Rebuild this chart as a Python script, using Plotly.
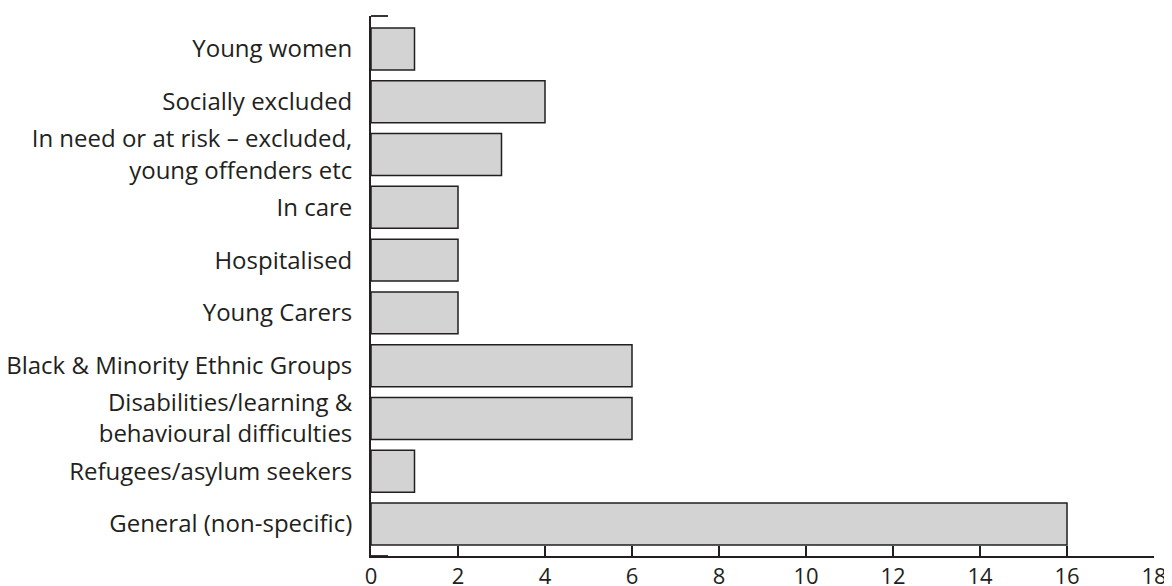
import plotly.graph_objects as go

categories = [
    "General (non-specific)",
    "Refugees/asylum seekers",
    "Disabilities/learning &<br>behavioural difficulties",
    "Black & Minority Ethnic Groups",
    "Young Carers",
    "Hospitalised",
    "In care",
    "In need or at risk – excluded,<br>young offenders etc",
    "Socially excluded",
    "Young women",
]
values = [16, 1, 6, 6, 2, 2, 2, 3, 4, 1]
x_ticks = [0, 2, 4, 6, 8, 10, 12, 14, 16, 18]

INK = "#231f20"
FONT = "Open Sans"

fig = go.Figure(
    go.Bar(
        x=values,
        y=categories,
        orientation="h",
        marker=dict(color="#d3d3d4", line=dict(color=INK, width=1.5)),
        hoverinfo="x+y",
    )
)

# page body adds an 8px offset; margins compensate for it
fig.update_layout(
    width=1172,
    height=586,
    margin=dict(l=363, r=26, t=8, b=38, autoexpand=False),
    paper_bgcolor="white",
    plot_bgcolor="white",
    bargap=0.205,
    showlegend=False,
    font=dict(family=FONT, color=INK),
    xaxis=dict(
        range=[0, 18],
        tickvals=x_ticks,
        ticktext=[str(v) for v in x_ticks],
        ticks="inside",
        ticklen=10,
        tickwidth=1.5,
        tickcolor=INK,
        showline=True,
        linecolor=INK,
        linewidth=1.8,
        showgrid=False,
        zeroline=False,
        automargin=False,
        tickfont=dict(size=22, family=FONT, color=INK),
        ticklabelstandoff=0,
    ),
    yaxis=dict(
        type="category",
        categoryorder="array",
        categoryarray=categories,
        range=[-0.606, 9.625],
        showline=True,
        linecolor=INK,
        linewidth=1.8,
        ticks="",
        showgrid=False,
        zeroline=False,
        automargin=False,
        tickfont=dict(size=24, family=FONT, color=INK),
        ticklabelstandoff=12,
    ),
    shapes=[
        dict(type="line", xref="paper", yref="paper", x0=0, x1=17 / 783, y0=1, y1=1,
             line=dict(color=INK, width=1.8)),
        dict(type="line", xref="paper", yref="paper", x0=0, x1=17 / 783, y0=0, y1=0,
             line=dict(color=INK, width=1.8)),
    ],
)

fig.write_html("out.html")
